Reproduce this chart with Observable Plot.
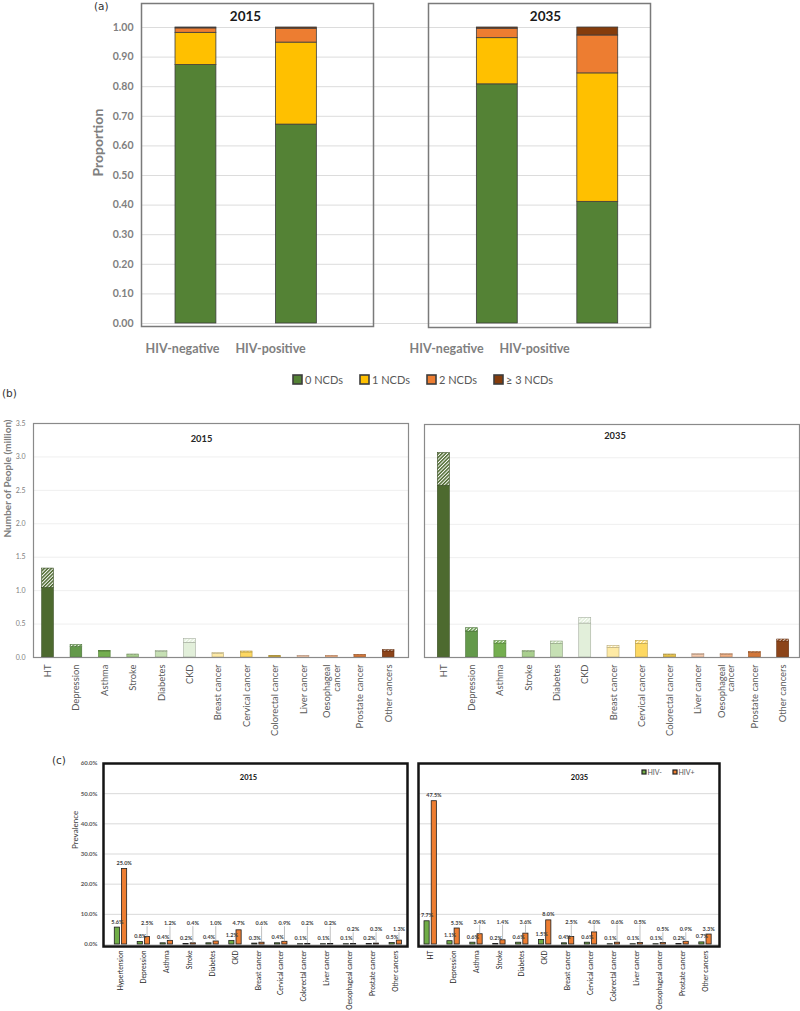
<!DOCTYPE html>
<html><head><meta charset="utf-8">
<script src="https://cdn.jsdelivr.net/npm/d3@7"></script>
<script src="https://cdn.jsdelivr.net/npm/@observablehq/plot@0.6"></script>
<style>
html,body{margin:0;padding:0;background:#fff;}
#root{position:relative;width:800px;height:1011px;overflow:hidden;font-family:Lato,sans-serif;background:#fff;}
.tag{position:absolute;font-family:"DejaVu Sans",sans-serif;font-size:10.5px;line-height:12px;color:#333;}
#legA{position:absolute;left:293px;top:373px;}
#legA > div{font:11px Lato,sans-serif !important;color:#595959 !important;margin:0 !important;min-height:0 !important;}
#legA span{margin-right:17px !important;display:inline-flex;align-items:center;}
#legA span > svg{margin-right:3px !important;}
#legA rect{stroke:#3d3d3d;stroke-width:1.6px;}
#legC{position:absolute;left:642px;top:768px;}
#legC > div{font:7px Lato,sans-serif !important;color:#595959 !important;margin:0 !important;min-height:0 !important;}
#legC span{margin-right:11px !important;display:inline-flex;align-items:center;}
#legC span > svg{margin-right:1.5px !important;}
#legC rect{stroke:#222;stroke-width:1.2px;}
</style></head>
<body><div id="root"></div>
<script>
// ---------------- DATA ----------------
// (a) proportion of people by number of NCDs
const aYears = ["2015", "2035"];
const aGroups = ["HIV-negative", "HIV-positive"];
const ncdLevels = ["0 NCDs", "1 NCDs", "2 NCDs", "≥ 3 NCDs"];
const prop2015Neg = [0.873, 0.109, 0.015, 0.003];
const prop2015Pos = [0.672, 0.277, 0.047, 0.004];
const prop2035Neg = [0.808, 0.156, 0.032, 0.004];
const prop2035Pos = [0.411, 0.434, 0.128, 0.027];
const aTicks = [0, 0.1, 0.2, 0.3, 0.4, 0.5, 0.6, 0.7, 0.8, 0.9, 1.0];

// (b) number of people (million): lower solid part and hatched upper part
const bCats = ["HT", "Depression", "Asthma", "Stroke", "Diabetes", "CKD", "Breast cancer", "Cervical cancer", "Colorectal cancer", "Liver cancer", "Oesophageal cancer", "Prostate cancer", "Other cancers"];
const bTickLabels = ["HT", "Depression", "Asthma", "Stroke", "Diabetes", "CKD", "Breast cancer", "Cervical cancer", "Colorectal cancer", "Liver cancer", "Oesophageal\ncancer", "Prostate cancer", "Other cancers"];
const people2015Solid = [1.04, 0.155, 0.09, 0.035, 0.08, 0.22, 0.05, 0.075, 0.015, 0.02, 0.02, 0.035, 0.09];
const people2015Hatch = [0.29, 0.03, 0.01, 0.01, 0.015, 0.055, 0.015, 0.015, 0.005, 0.005, 0.005, 0.005, 0.02];
const people2035Solid = [2.58, 0.39, 0.21, 0.08, 0.205, 0.51, 0.145, 0.205, 0.035, 0.04, 0.04, 0.07, 0.24];
const people2035Hatch = [0.49, 0.05, 0.035, 0.02, 0.035, 0.085, 0.03, 0.045, 0.01, 0.01, 0.01, 0.015, 0.03];
const bTicks = [0, 0.5, 1.0, 1.5, 2.0, 2.5, 3.0, 3.5];

// (c) prevalence (%)
const cSeries = ["HIV-", "HIV+"];
const cCats2015 = ["Hypertension", "Depression", "Asthma", "Stroke", "Diabetes", "CKD", "Breast cancer", "Cervical cancer", "Colorectal cancer", "Liver cancer", "Oesophageal cancer", "Prostate cancer", "Other cancers"];
const cCats2035 = ["HT", "Depression", "Asthma", "Stroke", "Diabetes", "CKD", "Breast cancer", "Cervical cancer", "Colorectal cancer", "Liver cancer", "Oesophageal cancer", "Prostate cancer", "Other cancers"];
const prevNeg2015 = [5.6, 0.8, 0.4, 0.2, 0.4, 1.2, 0.3, 0.4, 0.1, 0.1, 0.1, 0.2, 0.5];
const prevPos2015 = [25.0, 2.5, 1.2, 0.4, 1.0, 4.7, 0.6, 0.9, 0.2, 0.2, 0.2, 0.3, 1.3];
const prevNeg2035 = [7.7, 1.1, 0.6, 0.2, 0.6, 1.5, 0.4, 0.6, 0.1, 0.1, 0.1, 0.2, 0.7];
const prevPos2035 = [47.5, 5.3, 3.4, 1.4, 3.6, 8.0, 2.5, 4.0, 0.6, 0.5, 0.5, 0.9, 3.3];
const cTicks = [0, 10, 20, 30, 40, 50, 60];

// ---------------- STYLES ----------------
const ncdColors = ["#548235", "#ffc000", "#ed7d31", "#843c0c"];
const catColors = ["#4d6a2f", "#63994a", "#74ae4f", "#a9cf8e", "#c6e0b4", "#e2efda", "#feeaa5", "#fdd862", "#e8c34a", "#f8cbad", "#f4b183", "#d2773a", "#8c4419"];
const cColors = ["#70ad47", "#ed7d31"];

const root = document.getElementById("root");
const W = 800, H = 1011;
const box = (l, t, r, b) => ({width: W, height: H, marginLeft: l, marginTop: t, marginRight: W - r, marginBottom: H - b});
const baseStyle = {position: "absolute", left: "0px", top: "0px", background: "transparent", overflow: "visible", fontFamily: "Lato, sans-serif"};
const place = (node) => { root.appendChild(node); return node; };
const tag = (txt, l, t) => { const s = document.createElement("span"); s.className = "tag"; s.textContent = txt; s.style.left = l + "px"; s.style.top = t + "px"; root.appendChild(s); };

// ---------------- PANEL (a) ----------------
tag("(a)", 94, 0);
const aSlots = [`${aYears[0]}|${aGroups[0]}`, `${aYears[0]}|${aGroups[1]}`, "gap", `${aYears[1]}|${aGroups[0]}`, `${aYears[1]}|${aGroups[1]}`];
const aValues = [[aSlots[0], prop2015Neg], [aSlots[1], prop2015Pos], [aSlots[3], prop2035Neg], [aSlots[4], prop2035Pos]];
const aRows = aValues.flatMap(([slot, vals]) => ncdLevels.map((ncd, k) => ({slot, ncd, value: vals[k]})));

place(Plot.plot({
  ...box(141, 27, 650, 323),
  style: {...baseStyle, color: "#808080"},
  x: {type: "band", domain: aSlots, paddingInner: 0.593, paddingOuter: 0.33, align: 0.513, round: false, axis: null},
  y: {domain: [0, 1], axis: null},
  color: {type: "ordinal", domain: ncdLevels, range: ncdColors},
  marks: [
    Plot.gridY({ticks: aTicks, stroke: "#dcdcdc", strokeOpacity: 1}),
    Plot.axisY({ticks: aTicks, tickSize: 0, tickPadding: 8, label: null, tickFormat: d3.format(".2f"), fontSize: 10.5, fontWeight: "bold", color: "#808080"}),
    Plot.barY(aRows, {x: "slot", y: "value", fill: "ncd", stroke: "#3d3d3d", strokeWidth: 0.8}),
    ...aSlots.map((slot, k) => slot.includes("|") ? Plot.text([slot], {x: d => d, text: d => d.split("|")[1], frameAnchor: "bottom", lineAnchor: "middle", dy: 25, dx: -13.4 - 12.45 * k, fontSize: 12.5, fontWeight: "bold", fill: "#7f7f7f"}) : null).filter(Boolean),
    Plot.text(["Proportion"], {text: d => d, frameAnchor: "left", dx: -43, dy: 1, rotate: -90, fontSize: 14, fontWeight: "bold", fill: "#7f7f7f"})
  ]
}));
place(Plot.plot({...box(141, 3, 373, 326), style: baseStyle, marks: [
  Plot.frame({stroke: "#7a7a7a", strokeWidth: 1.5}),
  Plot.text([aYears[0]], {text: d => d, frameAnchor: "top", lineAnchor: "middle", dx: -12, dy: 13, fontSize: 13.5, fontWeight: "bold", fill: "#1a1a1a"})
]}));
place(Plot.plot({...box(428, 3, 650, 327), style: baseStyle, marks: [
  Plot.frame({stroke: "#7a7a7a", strokeWidth: 1.5}),
  Plot.text([aYears[1]], {text: d => d, frameAnchor: "top", lineAnchor: "middle", dx: 6, dy: 13, fontSize: 13.5, fontWeight: "bold", fill: "#1a1a1a"})
]}));
const legA = document.createElement("div"); legA.id = "legA";
legA.appendChild(Plot.legend({color: {type: "ordinal", domain: ncdLevels, range: ncdColors}, legend: "swatches", swatchSize: 9}));
root.appendChild(legA);

// ---------------- PANEL (b) ----------------
tag("(b)", 2, 387);
function panelB(key, title, solid, hatch, frame, xOpts, showY, tdx, tdy) {
  const rows = bCats.flatMap((cat, i) => [{cat, i, part: "solid", value: solid[i]}, {cat, i, part: "hatch", value: hatch[i]}]);
  const svg = Plot.plot({
    ...box(...frame),
    style: {...baseStyle, color: "#808080"},
    x: {type: "band", domain: bCats, ...xOpts, round: false, axis: null},
    y: {domain: [0, 3.5], axis: null},
    color: {type: "identity"},
    marks: [
      Plot.gridY({ticks: bTicks, stroke: "#efefef", strokeOpacity: 1}),
      showY ? Plot.axisY({ticks: bTicks, tickSize: 0, tickPadding: 8, label: null, tickFormat: d3.format(".1f"), fontSize: 7, color: "#808080"}) : null,
      showY ? Plot.text(["Number of People (million)"], {text: d => d, frameAnchor: "left", dx: -26, dy: -3, rotate: -90, fontSize: 10, fontWeight: "bold", fill: "#7f7f7f"}) : null,
      Plot.barY(rows, {x: "cat", y: "value",
        fill: d => d.part === "solid" ? catColors[d.i] : `url(#${key}-h${d.i})`,
        stroke: d => d3.color(catColors[d.i]).darker(0.9).formatHex(), strokeWidth: 0.6}),
      Plot.text(bCats, {x: d => d, text: (d, i) => bTickLabels[i], frameAnchor: "bottom", rotate: -90, textAnchor: "end", lineAnchor: "middle", dy: 7, fontSize: 9.4, fill: "#595959"}),
      Plot.frame({stroke: "#8a8a8a", strokeWidth: 1.2}),
      Plot.text([title], {text: d => d, frameAnchor: "top", lineAnchor: "middle", dx: tdx, dy: tdy, fontSize: 9.3, fontWeight: "bold", fill: "#262626"})
    ].filter(Boolean)
  });
  const defs = d3.select(svg).insert("defs", ":first-child");
  catColors.forEach((c, i) => {
    const p = defs.append("pattern").attr("id", `${key}-h${i}`).attr("patternUnits", "userSpaceOnUse")
      .attr("width", 2.5).attr("height", 2.5).attr("patternTransform", "rotate(45)");
    p.append("rect").attr("width", 2.5).attr("height", 2.5).attr("fill", "#ffffff");
    p.append("rect").attr("width", 1.5).attr("height", 2.5).attr("fill", c);
  });
  place(svg);
}
panelB("b15", aYears[0], people2015Solid, people2015Hatch, [33, 423, 408, 657], {paddingInner: 0.588, paddingOuter: 0.4, align: 0.383}, true, -19.5, 16);
panelB("b35", aYears[1], people2035Solid, people2035Hatch, [424, 424, 799, 657], {paddingInner: 0.576, paddingOuter: 0.418, align: 0.564}, false, 3, 12);

// ---------------- PANEL (c) ----------------
tag("(c)", 52, 754);
function panelC(title, cats, neg, pos, frame, xOpts, showY, tdx, tdy, floor) {
  const rows = cats.map((cat, i) => ({cat, i, neg: neg[i], pos: pos[i]}));
  const labPos = d => d.pos >= 5 ? d.pos + 1.9 : Math.max(d.pos + 1.9, d.i >= 10 ? 5 : floor);
  place(Plot.plot({
    ...box(...frame),
    style: {...baseStyle, color: "#595959"},
    x: {type: "band", domain: cats, ...xOpts, round: false, axis: null},
    y: {domain: [0, 60], axis: null},
    marks: [
      Plot.gridY({ticks: cTicks, stroke: "#d9d9d9", strokeOpacity: 1}),
      showY ? Plot.axisY({ticks: cTicks, tickSize: 0, tickPadding: 6, label: null, tickFormat: d => d.toFixed(1) + "%", fontSize: 6, fontWeight: "bold", color: "#595959"}) : null,
      showY ? Plot.text(["Prevalence"], {text: d => d, frameAnchor: "left", dx: -28, dy: -5, rotate: -90, fontSize: 8, fill: "#404040"}) : null,
      Plot.barY(rows, {x: "cat", y: "neg", fill: cColors[0], stroke: "#1f1f1f", strokeWidth: 0.8, insetRight: 7.2}),
      Plot.barY(rows, {x: "cat", y: "pos", fill: cColors[1], stroke: "#1f1f1f", strokeWidth: 0.8, insetLeft: 7.2}),
      Plot.ruleX(rows.filter(d => labPos(d) - d.pos > 2.5), {x: "cat", y1: "pos", y2: d => labPos(d) - 1.1, dx: 3.2, stroke: "#a6a6a6", strokeWidth: 0.7}),
      Plot.text(rows, {x: "cat", y: d => d.neg + 1.9, text: d => d.neg.toFixed(1) + "%", dx: -3.6, fontSize: 5.5, fontWeight: "bold", fill: "#404040"}),
      Plot.text(rows, {x: "cat", y: labPos, text: d => d.pos.toFixed(1) + "%", dx: 3.2, fontSize: 5.5, fontWeight: "bold", fill: "#404040"}),
      Plot.text(cats, {x: d => d, text: d => d, frameAnchor: "bottom", rotate: -90, textAnchor: "end", lineAnchor: "middle", dy: 6, fontSize: 6.7, fill: "#262626"}),
      Plot.frame({stroke: "#141414", strokeWidth: 2.5, insetBottom: -2}),
      Plot.text([title], {text: d => d, frameAnchor: "top", lineAnchor: "middle", dx: tdx, dy: tdy, fontSize: 7.5, fontWeight: "bold", fill: "#111"})
    ].filter(Boolean)
  }));
}
panelC(aYears[0], cCats2015, prevNeg2015, prevPos2015, [103, 763, 407, 944], {paddingInner: 0.46, paddingOuter: 0.3675, align: 0.671}, true, -7, 14, 7);
panelC(aYears[1], cCats2035, prevNeg2035, prevPos2035, [418, 763, 719, 944], {paddingInner: 0.46, paddingOuter: 0.302, align: 0.434}, false, 10.5, 14, 7.5);
const legC = document.createElement("div"); legC.id = "legC";
legC.appendChild(Plot.legend({color: {type: "ordinal", domain: cSeries, range: cColors}, legend: "swatches", swatchSize: 4}));
root.appendChild(legC);
</script>
</body></html>
